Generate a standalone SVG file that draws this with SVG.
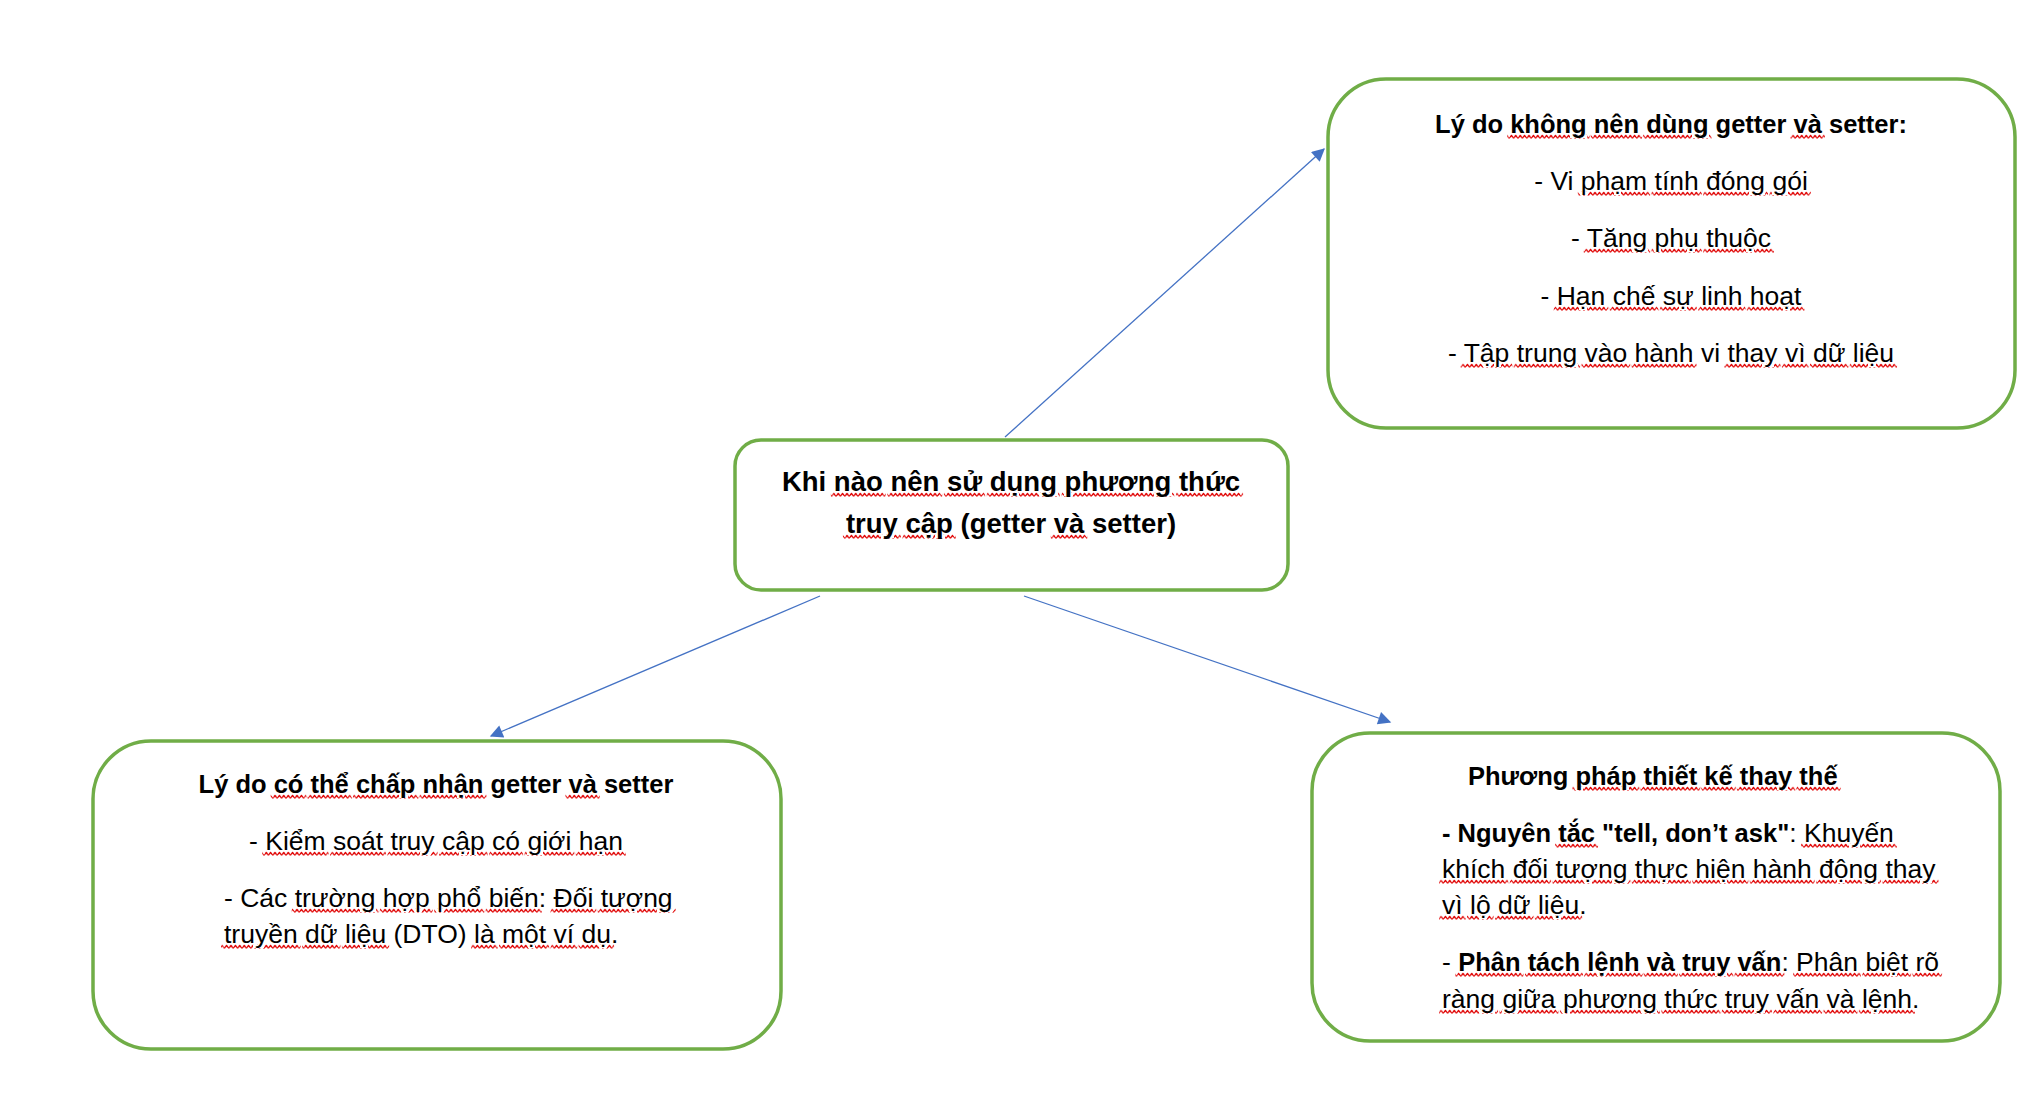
<svg xmlns="http://www.w3.org/2000/svg" width="2028" height="1118" viewBox="0 0 2028 1118">
<style>
.box{fill:#fff;stroke:#70AD47;stroke-width:3.5}
.t{font-family:"Liberation Sans",Arial,sans-serif;font-size:26.5px;fill:#000}
.b{font-weight:bold;font-size:25.5px}
.h{font-weight:bold;font-size:27.5px}
.c{text-anchor:middle}
.s{fill:url(#wv);stroke:url(#wv);stroke-width:6;text-decoration:underline}
.s tspan{fill:#000;stroke:none}
.conn{stroke:#4472C4;stroke-width:1.3;fill:none}
</style>
<defs>
<pattern id="wv" patternUnits="userSpaceOnUse" x="0" y="-40" width="4.4" height="80">
<path d="M0,45.6 L2.2,42.4 L4.4,45.6" fill="none" stroke="#E00000" stroke-width="0.9"/>
</pattern>
<marker id="arr" viewBox="0 0 10 10" refX="9" refY="5" markerWidth="17" markerHeight="13" markerUnits="userSpaceOnUse" orient="auto">
<path d="M0,0 L10,5 L0,10 Z" fill="#4472C4"/>
</marker>
</defs>
<rect width="2028" height="1118" fill="#fff"/>
<g id="connectors">
<path class="conn" d="M1005,437 L1324,149" marker-end="url(#arr)"/>
<path class="conn" d="M820,596 L491,736" marker-end="url(#arr)"/>
<path class="conn" d="M1024,596 L1390,722" marker-end="url(#arr)"/>
</g>
<g id="center">
<rect class="box" x="735" y="440" width="553" height="150" rx="26"/>
<text class="t h c" x="1011" y="0" transform="translate(0,491)">Khi <tspan class="s"><tspan>nào</tspan></tspan> <tspan class="s"><tspan>nên</tspan></tspan> <tspan class="s"><tspan>sử</tspan></tspan> <tspan class="s"><tspan>dụng</tspan></tspan> <tspan class="s"><tspan>phương</tspan></tspan> <tspan class="s"><tspan>thức</tspan></tspan></text>
<text class="t h c" x="1011" y="0" transform="translate(0,533)"><tspan class="s"><tspan>truy</tspan></tspan> <tspan class="s"><tspan>cập</tspan></tspan> (getter <tspan class="s"><tspan>và</tspan></tspan> setter)</text>
</g>
<g id="cons">
<rect class="box" x="1328" y="79" width="687" height="349" rx="58"/>
<text class="t b c" x="1671" y="0" transform="translate(0,133)">Lý do <tspan class="s"><tspan>không</tspan></tspan> <tspan class="s"><tspan>nên</tspan></tspan> <tspan class="s"><tspan>dùng</tspan></tspan> getter <tspan class="s"><tspan>và</tspan></tspan> setter:</text>
<text class="t c" x="1671" y="0" transform="translate(0,190)">- Vi <tspan class="s"><tspan>phạm</tspan></tspan> <tspan class="s"><tspan>tính</tspan></tspan> <tspan class="s"><tspan>đóng</tspan></tspan> <tspan class="s"><tspan>gói</tspan></tspan></text>
<text class="t c" x="1671" y="0" transform="translate(0,247)">- <tspan class="s"><tspan>Tăng</tspan></tspan> <tspan class="s"><tspan>phụ</tspan></tspan> <tspan class="s"><tspan>thuộc</tspan></tspan></text>
<text class="t c" x="1671" y="0" transform="translate(0,305)">- <tspan class="s"><tspan>Hạn</tspan></tspan> <tspan class="s"><tspan>chế</tspan></tspan> <tspan class="s"><tspan>sự</tspan></tspan> <tspan class="s"><tspan>linh</tspan></tspan> <tspan class="s"><tspan>hoạt</tspan></tspan></text>
<text class="t c" x="1671" y="0" transform="translate(0,362)">- <tspan class="s"><tspan>Tập</tspan></tspan> <tspan class="s"><tspan>trung</tspan></tspan> <tspan class="s"><tspan>vào</tspan></tspan> <tspan class="s"><tspan>hành</tspan></tspan> vi <tspan class="s"><tspan>thay</tspan></tspan> <tspan class="s"><tspan>vì</tspan></tspan> <tspan class="s"><tspan>dữ</tspan></tspan> <tspan class="s"><tspan>liệu</tspan></tspan></text>
</g>
<g id="pros">
<rect class="box" x="93" y="741" width="688" height="308" rx="58"/>
<text class="t b c" x="436" y="0" transform="translate(0,793)">Lý do <tspan class="s"><tspan>có</tspan></tspan> <tspan class="s"><tspan>thể</tspan></tspan> <tspan class="s"><tspan>chấp</tspan></tspan> <tspan class="s"><tspan>nhận</tspan></tspan> getter <tspan class="s"><tspan>và</tspan></tspan> setter</text>
<text class="t c" x="436" y="0" transform="translate(0,850)">- <tspan class="s"><tspan>Kiểm</tspan></tspan> <tspan class="s"><tspan>soát</tspan></tspan> <tspan class="s"><tspan>truy</tspan></tspan> <tspan class="s"><tspan>cập</tspan></tspan> <tspan class="s"><tspan>có</tspan></tspan> <tspan class="s"><tspan>giới</tspan></tspan> <tspan class="s"><tspan>hạn</tspan></tspan></text>
<text class="t" x="224" y="0" transform="translate(0,907)">- Các <tspan class="s"><tspan>trường</tspan></tspan> <tspan class="s"><tspan>hợp</tspan></tspan> <tspan class="s"><tspan>phổ</tspan></tspan> <tspan class="s"><tspan>biến</tspan></tspan>: <tspan class="s"><tspan>Đối</tspan></tspan> <tspan class="s"><tspan>tượng</tspan></tspan></text>
<text class="t" x="224" y="0" transform="translate(0,943)"><tspan class="s"><tspan>truyền</tspan></tspan> <tspan class="s"><tspan>dữ</tspan></tspan> <tspan class="s"><tspan>liệu</tspan></tspan> (DTO) <tspan class="s"><tspan>là</tspan></tspan> <tspan class="s"><tspan>một</tspan></tspan> <tspan class="s"><tspan>ví</tspan></tspan> <tspan class="s"><tspan>dụ</tspan></tspan>.</text>
</g>
<g id="alternatives">
<rect class="box" x="1312" y="733" width="688" height="308" rx="58"/>
<text class="t b" x="1468" y="0" transform="translate(0,785)">Phương <tspan class="s"><tspan>pháp</tspan></tspan> <tspan class="s"><tspan>thiết</tspan></tspan> <tspan class="s"><tspan>kế</tspan></tspan> <tspan class="s"><tspan>thay</tspan></tspan> <tspan class="s"><tspan>thế</tspan></tspan></text>
<text class="t" x="1442" y="0" transform="translate(0,842)"><tspan class="b">- Nguyên <tspan class="s"><tspan>tắc</tspan></tspan> "tell, don’t ask"</tspan>: <tspan class="s"><tspan>Khuyến</tspan></tspan></text>
<text class="t" x="1442" y="0" transform="translate(0,878)"><tspan class="s"><tspan>khích</tspan></tspan> <tspan class="s"><tspan>đối</tspan></tspan> <tspan class="s"><tspan>tượng</tspan></tspan> <tspan class="s"><tspan>thực</tspan></tspan> <tspan class="s"><tspan>hiện</tspan></tspan> <tspan class="s"><tspan>hành</tspan></tspan> <tspan class="s"><tspan>động</tspan></tspan> <tspan class="s"><tspan>thay</tspan></tspan></text>
<text class="t" x="1442" y="0" transform="translate(0,914)"><tspan class="s"><tspan>vì</tspan></tspan> <tspan class="s"><tspan>lộ</tspan></tspan> <tspan class="s"><tspan>dữ</tspan></tspan> <tspan class="s"><tspan>liệu</tspan></tspan>.</text>
<text class="t" x="1442" y="0" transform="translate(0,971)">- <tspan class="b"><tspan class="s"><tspan>Phân</tspan></tspan> <tspan class="s"><tspan>tách</tspan></tspan> <tspan class="s"><tspan>lệnh</tspan></tspan> <tspan class="s"><tspan>và</tspan></tspan> <tspan class="s"><tspan>truy</tspan></tspan> <tspan class="s"><tspan>vấn</tspan></tspan></tspan>: <tspan class="s"><tspan>Phân</tspan></tspan> <tspan class="s"><tspan>biệt</tspan></tspan> <tspan class="s"><tspan>rõ</tspan></tspan></text>
<text class="t" x="1442" y="0" transform="translate(0,1008)"><tspan class="s"><tspan>ràng</tspan></tspan> <tspan class="s"><tspan>giữa</tspan></tspan> <tspan class="s"><tspan>phương</tspan></tspan> <tspan class="s"><tspan>thức</tspan></tspan> <tspan class="s"><tspan>truy</tspan></tspan> <tspan class="s"><tspan>vấn</tspan></tspan> <tspan class="s"><tspan>và</tspan></tspan> <tspan class="s"><tspan>lệnh</tspan></tspan>.</text>
</g>
</svg>
